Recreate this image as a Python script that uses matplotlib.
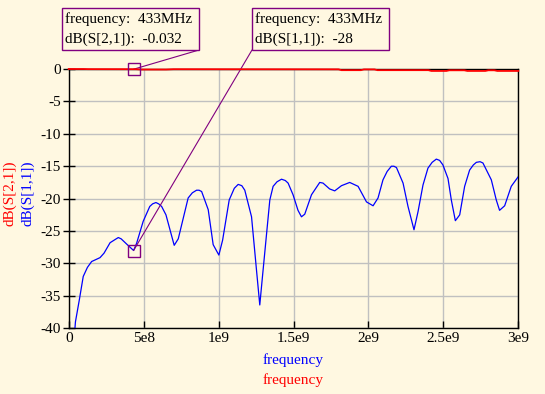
import matplotlib
matplotlib.use('Agg')
import matplotlib.pyplot as plt
from matplotlib.patches import Rectangle
import numpy as np

# 曲线数据（频率单位 GHz）
s11_f = [0.035, 0.045, 0.071, 0.097, 0.125, 0.153, 0.209, 0.236, 0.276, 0.31, 0.331, 0.35, 0.391, 0.433,
         0.453, 0.497, 0.541, 0.56, 0.582, 0.60, 0.620, 0.649, 0.704, 0.731, 0.797, 0.825, 0.853, 0.870,
         0.887, 0.931, 0.964, 1.002, 1.027, 1.071, 1.105, 1.131, 1.155, 1.175, 1.220, 1.253, 1.275,
         1.293, 1.342, 1.364, 1.39, 1.420, 1.445, 1.464, 1.497, 1.530, 1.553, 1.575, 1.620, 1.675,
         1.697, 1.741, 1.775, 1.820, 1.875, 1.931, 1.987, 2.031, 2.064, 2.097, 2.125, 2.153, 2.17,
         2.187, 2.231, 2.264, 2.304, 2.331, 2.364, 2.397, 2.425, 2.453, 2.475, 2.497, 2.531, 2.553,
         2.580, 2.609, 2.642, 2.675, 2.70, 2.720, 2.745, 2.764, 2.820, 2.853, 2.875, 2.909, 2.953, 3.000]
s11_db = [-42.0, -39.0, -35.6, -32.0, -30.6, -29.7, -29.1, -28.4, -26.8, -26.3, -26.0, -26.2, -27.1, -28.0,
          -26.9, -23.5, -21.2, -20.8, -20.6, -20.8, -21.2, -22.5, -27.2, -26.2, -19.9, -19.1, -18.7, -18.7,
          -18.9, -21.7, -27.1, -28.7, -26.4, -20.2, -18.4, -17.8, -18.0, -18.7, -22.8, -31.0, -36.4,
          -32.0, -20.2, -18.1, -17.4, -17.0, -17.2, -17.6, -19.4, -21.8, -22.8, -22.4, -19.4, -17.5,
          -17.6, -18.5, -18.8, -18.0, -17.5, -18.1, -20.5, -21.1, -19.9, -17.1, -15.8, -15.0, -15.0,
          -15.2, -17.6, -21.2, -24.8, -22.0, -17.9, -15.3, -14.4, -13.9, -14.1, -14.8, -16.9, -20.2,
          -23.4, -22.5, -18.1, -15.6, -14.8, -14.4, -14.3, -14.5, -17.1, -20.2, -21.8, -21.1, -18.1, -16.6]

s21_f = [0.0, 0.10, 0.13, 0.45, 0.48, 0.65, 0.70, 1.20, 1.80, 1.82, 1.95, 1.97, 2.04, 2.06, 2.40,
         2.42, 2.52, 2.54, 2.64, 2.66, 2.78, 2.80, 2.84, 2.86, 3.0]
s21_db = [0.0, 0.0, -0.02, -0.03, -0.08, -0.08, -0.03, -0.04, -0.05, -0.18, -0.18, -0.06, -0.06,
          -0.18, -0.18, -0.30, -0.30, -0.20, -0.20, -0.30, -0.30, -0.20, -0.20, -0.30, -0.30]

marker_f = 433e6
marker_s21 = -0.032
marker_s11 = -28

xticks = [0, 5e8, 1e9, 1.5e9, 2e9, 2.5e9, 3e9]
xticklabels = ['0', '5e8', '1e9', '1.5e9', '2e9', '2.5e9', '3e9']
yticks = [0, -5, -10, -15, -20, -25, -30, -35, -40]

bg = '#fff8e1'
purple = '#800080'
W, H = 545, 394

plt.rcParams['font.family'] = ['Liberation Serif', 'DejaVu Serif']
plt.rcParams['axes.unicode_minus'] = False
fig = plt.figure(figsize=(W / 100, H / 100), dpi=100, facecolor=bg)
ax = fig.add_axes([68.7 / W, 1 - 328.3 / H, (518.3 - 68.7) / W, (328.3 - 69) / H])
ax.set_facecolor(bg)

ax.plot(np.array(s11_f) * 1e9, s11_db, color='#0000ff', lw=0.9, zorder=3)
ax.plot(np.array(s21_f) * 1e9, s21_db, color='#ff0000', lw=1.3, zorder=4, clip_on=False)

ax.set_xlim(0, 3e9)
ax.set_ylim(-40, 0)
ax.set_xticks(xticks)
ax.set_xticklabels(xticklabels)
ax.set_yticks(yticks)
ax.grid(True, color='#c0c0c0', lw=1.0)
ax.tick_params(axis='x', direction='in', length=5, width=1, labelsize=11, pad=3)
ax.tick_params(axis='y', direction='inout', length=9, width=1, labelsize=11, pad=1)
for sp in ax.spines.values():
    sp.set_color('black')
    sp.set_linewidth(1)

# 轴标签
fig.text(293 / W, 1 - 360 / H, 'frequency', color='#0000ff', fontsize=11, ha='center', va='center')
fig.text(293 / W, 1 - 380 / H, 'frequency', color='#ff0000', fontsize=11, ha='center', va='center')
fig.text(10 / W, 1 - 193 / H, 'dB(S[2,1])', color='#ff0000', fontsize=11, rotation=90, ha='center', va='center')
fig.text(28 / W, 1 - 193 / H, 'dB(S[1,1])', color='#0000ff', fontsize=11, rotation=90, ha='center', va='center')

# 标记点
for y in [marker_s21, marker_s11]:
    ax.plot(marker_f, y, marker='s', ms=8.5, mfc='none', mec=purple, mew=1, zorder=5, clip_on=False)

# 标注框
boxes = [(62, 8, 199, 50, 'dB(S[2,1]):  %s' % marker_s21, (199, 50), marker_s21),
         (252, 8, 389, 50, 'dB(S[1,1]):  %d' % marker_s11, (252, 50), marker_s11)]
for x0, y0, x1, y1, line2, corner, yv in boxes:
    fig.add_artist(Rectangle((x0 / W, 1 - y1 / H), (x1 - x0) / W, (y1 - y0) / H, transform=fig.transFigure,
                             facecolor=bg, edgecolor=purple, lw=1, zorder=6))
    fig.text((x0 + 3) / W, 1 - 19 / H, 'frequency:  433MHz', fontsize=11, va='center', zorder=7)
    fig.text((x0 + 3) / W, 1 - 39 / H, line2, fontsize=11, va='center', zorder=7)
    ax.annotate('', xy=(marker_f, yv), xycoords='data', xytext=(corner[0] / W, 1 - corner[1] / H),
                textcoords='figure fraction', annotation_clip=False,
                arrowprops=dict(arrowstyle='-', color=purple, lw=0.8, shrinkA=0, shrinkB=0))

plt.savefig('out.png', dpi=100, facecolor=bg)
